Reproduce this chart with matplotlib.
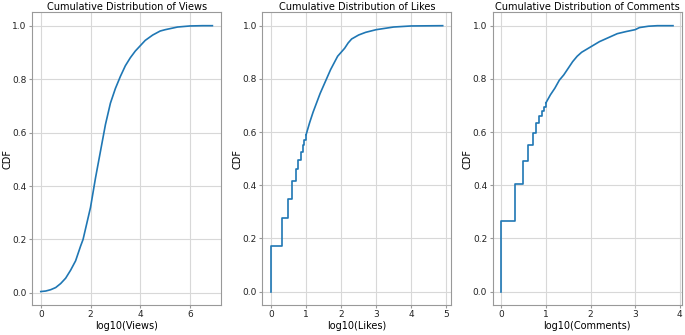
import numpy as np
import matplotlib.pyplot as plt

# ECDF of log10 counts
views_x = [0.0, 0.2, 0.4, 0.6, 0.8, 1.0, 1.2, 1.4, 1.6, 1.7, 1.8, 2.0, 2.2, 2.4, 2.6, 2.8,
           3.0, 3.2, 3.4, 3.6, 3.8, 4.0, 4.2, 4.5, 4.8, 5.0, 5.5, 6.0, 6.5, 6.9]
views_cdf = [0.005, 0.007, 0.012, 0.02, 0.035, 0.055, 0.085, 0.12, 0.175, 0.2, 0.24, 0.32,
             0.43, 0.53, 0.63, 0.71, 0.765, 0.81, 0.85, 0.88, 0.905, 0.925, 0.945, 0.965,
             0.98, 0.985, 0.995, 0.999, 1.0, 1.0]

# discrete part (1..10 likes) drawn as steps, the rest as a smooth line
likes_step_x = [0.0, 0.0, 0.301, 0.477, 0.602, 0.699, 0.778, 0.845, 0.903, 0.954, 1.0]
likes_step_cdf = [0.0, 0.17, 0.275, 0.35, 0.415, 0.46, 0.495, 0.525, 0.55, 0.57, 0.59]
likes_x = [1.0, 1.1, 1.2, 1.3, 1.4, 1.5, 1.6, 1.7, 1.8, 1.9, 2.0, 2.1, 2.2, 2.3, 2.5,
           2.7, 3.0, 3.5, 4.0, 4.9]
likes_cdf = [0.59, 0.635, 0.675, 0.71, 0.745, 0.775, 0.805, 0.835, 0.86, 0.885, 0.9,
             0.915, 0.935, 0.95, 0.965, 0.975, 0.985, 0.995, 0.999, 1.0]

comments_step_x = [0.0, 0.0, 0.301, 0.477, 0.602, 0.699, 0.778, 0.845, 0.903, 0.954, 1.0]
comments_step_cdf = [0.0, 0.265, 0.405, 0.49, 0.55, 0.595, 0.635, 0.66, 0.68, 0.695, 0.71]
comments_x = [1.0, 1.1, 1.2, 1.3, 1.4, 1.5, 1.6, 1.7, 1.8, 1.9, 2.0, 2.2, 2.4, 2.6, 2.8,
              3.0, 3.1, 3.3, 3.5, 3.85]
comments_cdf = [0.71, 0.74, 0.765, 0.795, 0.815, 0.84, 0.865, 0.885, 0.9, 0.91, 0.92,
                0.94, 0.955, 0.97, 0.978, 0.985, 0.993, 0.998, 1.0, 1.0]

names = ["Views", "Likes", "Comments"]
steps = [None, (likes_step_x, likes_step_cdf), (comments_step_x, comments_step_cdf)]
lines = [(views_x, views_cdf), (likes_x, likes_cdf), (comments_x, comments_cdf)]

plt.rcParams['font.size'] = 7

fig, axes = plt.subplots(1, 3, figsize=(6.85, 3.35), dpi=100)
fig.subplots_adjust(left=0.047, right=0.995, top=0.963, bottom=0.09, wspace=0.22)

for ax, name, st, ln in zip(axes, names, steps, lines):
    if st is not None:
        ax.step(st[0], st[1], where='post', color='C0', lw=1.2)
    ax.plot(ln[0], ln[1], color='C0', lw=1.2)
    ax.set_title(f"Cumulative Distribution of {name}", fontsize=7, pad=2)
    ax.set_xlabel(f"log10({name})", labelpad=1, fontsize=7)
    ax.set_ylabel("CDF", labelpad=0, fontsize=7)
    ax.grid(True, color='#d8d8d8', lw=0.8)
    ax.set_axisbelow(True)
    for s in ax.spines.values():
        s.set_color('#999999')
    ax.tick_params(colors='#222222', length=2.5, pad=1.5, labelsize=6.5)
    ax.tick_params(color='#999999')

plt.savefig("out.png", dpi=100)
